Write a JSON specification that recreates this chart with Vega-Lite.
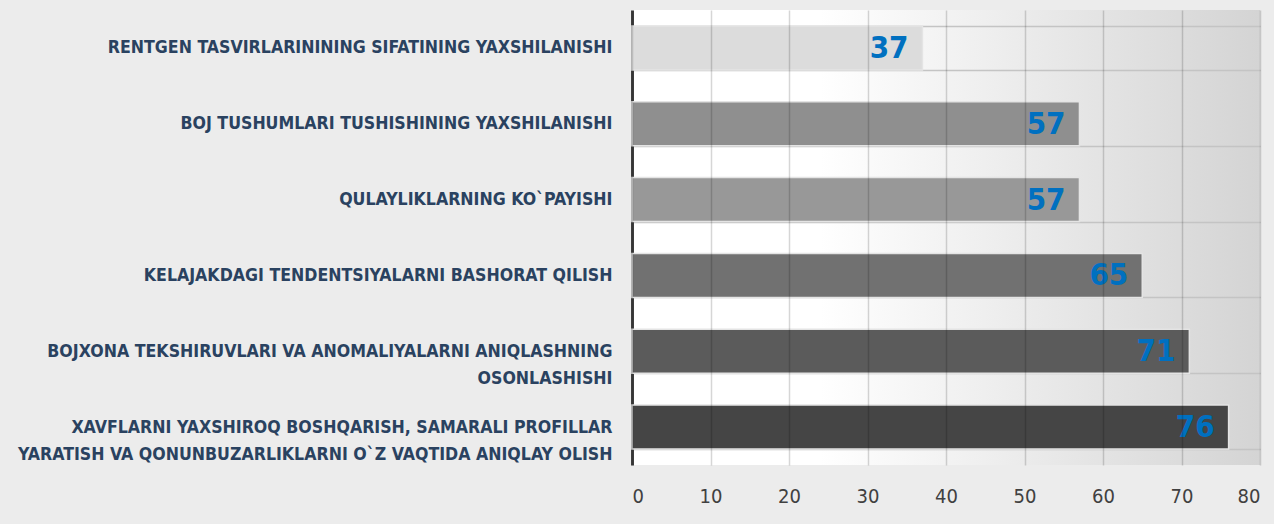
{
  "$schema": "https://vega.github.io/schema/vega-lite/v6.json",
  "autosize": {"type": "none"},
  "padding": {"left": 632, "top": 10, "right": 14, "bottom": 59},
  "width": 628,
  "height": 455,
  "background": "#ececec",
  "data": {
    "values": [
      {"category": "RENTGEN TASVIRLARININING SIFATINING YAXSHILANISHI", "value": 37, "shade": "a"},
      {"category": "BOJ TUSHUMLARI TUSHISHINING YAXSHILANISHI", "value": 57, "shade": "b"},
      {"category": "QULAYLIKLARNING KO`PAYISHI", "value": 57, "shade": "c"},
      {"category": "KELAJAKDAGI TENDENTSIYALARNI BASHORAT QILISH", "value": 65, "shade": "d"},
      {"category": "BOJXONA TEKSHIRUVLARI VA ANOMALIYALARNI ANIQLASHNING|OSONLASHISHI", "value": 71, "shade": "e"},
      {"category": "XAVFLARNI YAXSHIROQ BOSHQARISH, SAMARALI PROFILLAR|YARATISH VA QONUNBUZARLIKLARNI O`Z VAQTIDA ANIQLAY OLISH", "value": 76, "shade": "f"}
    ]
  },
  "encoding": {
    "y": {
      "field": "category",
      "type": "nominal",
      "sort": null,
      "title": null,
      "scale": {"paddingInner": 0.42, "paddingOuter": 0.21},
      "axis": {
        "labelExpr": "indexof(datum.label, 'OSONLASHISHI') >= 0 ? [split(datum.label, '|')[0], split(datum.label, '|')[1] + '\u00a0\u00a0\u00a0\u00a0\u00a0\u00a0\u00a0\u00a0\u00a0\u00a0\u00a0\u00a0\u00a0\u00a0\u00a0\u00a0\u00a0\u00a0\u00a0\u00a0\u00a0\u00a0\u00a0\u00a0\u00a0\u00a0\u00a0\u00a0\u00a0\u00a0\u00a0\u00a0\u00a0\u00a0\u00a0\u00a0\u00a0\u00a0\u00a0'] : (indexof(datum.label, 'XAVFLARNI') >= 0 ? [split(datum.label, '|')[0] + '\u00a0\u00a0\u00a0\u00a0\u00a0', split(datum.label, '|')[1]] : datum.label)",
        "labelFont": "DejaVu Sans Condensed, sans-serif",
        "labelFontWeight": "bold",
        "labelFontSize": 17.6,
        "labelColor": "#2a4260",
        "labelPadding": 20,
        "labelLineHeight": 27,
        "labelLimit": 720,
        "ticks": false,
        "tickBand": "extent",
        "grid": true,
        "gridColor": "#c4c4c4",
        "gridWidth": 1.5,
        "domain": true,
        "domainColor": "#404040",
        "domainWidth": 3
      }
    },
    "x": {
      "field": "value",
      "type": "quantitative",
      "title": null,
      "scale": {"domain": [0, 80], "nice": false},
      "axis": {
        "values": [0, 10, 20, 30, 40, 50, 60, 70, 80],
        "labelFont": "DejaVu Sans Condensed, sans-serif",
        "labelFontSize": 20,
        "labelColor": "#404040",
        "labelPadding": 21,
        "ticks": false,
        "domain": false,
        "grid": true,
        "gridColor": "#000000",
        "gridOpacity": 0.16,
        "gridWidth": 1.5,
        "zindex": 1
      }
    }
  },
  "layer": [
    {
      "mark": {"type": "bar", "stroke": "#e4e4e4", "strokeWidth": 1.5},
      "encoding": {
        "color": {
          "field": "shade",
          "type": "nominal",
          "legend": null,
          "scale": {
            "domain": ["a", "b", "c", "d", "e", "f"],
            "range": ["#dcdcdc", "#8f8f8f", "#989898", "#717171", "#5b5b5b", "#454545"]
          }
        }
      }
    },
    {
      "mark": {
        "type": "text",
        "align": "right",
        "baseline": "middle",
        "dx": -14,
        "dy": 1,
        "font": "DejaVu Sans Condensed, sans-serif",
        "fontWeight": "bold",
        "fontSize": 31,
        "color": "#0070c0"
      },
      "encoding": {
        "text": {"field": "value", "type": "quantitative"}
      }
    }
  ],
  "config": {
    "view": {
      "stroke": null,
      "fill": {
        "gradient": "linear",
        "x1": 0, "y1": 0, "x2": 1, "y2": 0,
        "stops": [
          {"offset": 0, "color": "#ffffff"},
          {"offset": 0.3, "color": "#ffffff"},
          {"offset": 1, "color": "#d4d4d4"}
        ]
      }
    }
  }
}
